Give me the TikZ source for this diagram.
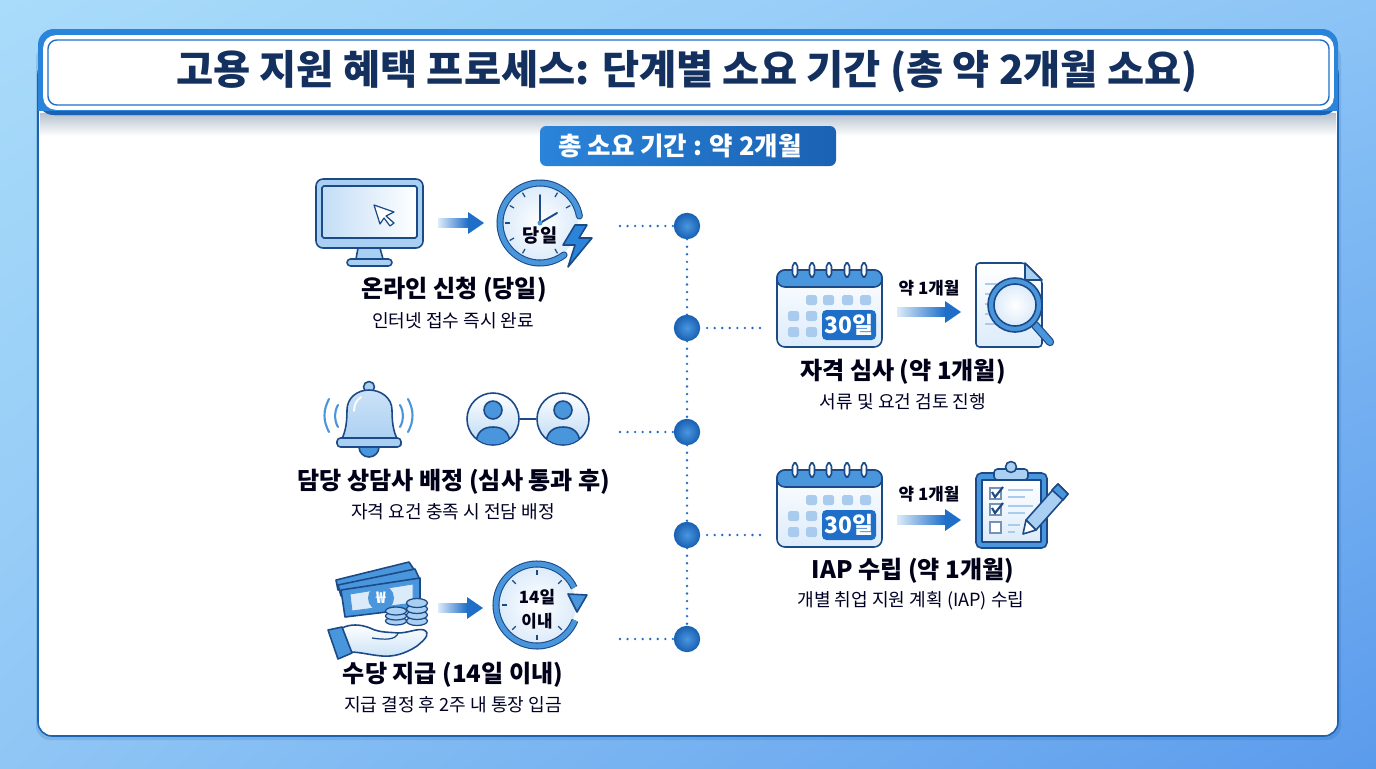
\documentclass[tikz,border=0pt]{standalone}
\usepackage{fontspec}
\setmainfont{Noto Sans CJK KR}
\usetikzlibrary{positioning,calc,shadings}
\definecolor{bgtl}{HTML}{A9DCFA}
\definecolor{bgtr}{HTML}{8CC4F6}
\definecolor{bgbl}{HTML}{8FC6F5}
\definecolor{bgbr}{HTML}{5B9BEC}
\definecolor{rimblue}{HTML}{2A84DA}
\definecolor{rimdark}{HTML}{1A62B4}
\definecolor{navytext}{HTML}{14305E}
\definecolor{inkdark}{HTML}{1B4A86}
\definecolor{midblue}{HTML}{4A96DC}
\definecolor{deepblue}{HTML}{1F6FC8}
\definecolor{softblue}{HTML}{A9CFF2}
\definecolor{paleblue}{HTML}{DCEBFA}
\definecolor{gridblue}{HTML}{A8CBEE}
\tikzset{
  icon/.style={draw=inkdark,line width=0.9pt,line join=round},
  headtext/.style={font=\bfseries\fontsize{13.7}{16}\selectfont,text=black!90!blue,inner sep=0pt},
  subtext/.style={font=\fontsize{10.3}{12}\selectfont,text=black!85!blue,inner sep=0pt},
  steptime/.style={font=\bfseries\fontsize{9.6}{11}\selectfont,text=black!90!blue,inner sep=0pt},
  tdot/.style={circle,draw=rimdark,line width=0.5pt,inner sep=0pt,minimum size=14.5pt,
    inner color=rimblue!85!white,outer color=rimdark},
  dotline/.style={draw=deepblue,line width=1.5pt,line cap=round,dash pattern=on 0pt off 4.3pt},
  pics/flowarrow/.style={code={
    \shade[left color=paleblue,right color=deepblue] (0,-4.5) rectangle (#1,4.5);
    \fill[deepblue] (#1,-11) -- ({#1+16},0) -- (#1,11) -- cycle;
  }},
  pics/calicon/.style={code={
    \draw[icon,fill=white,top color=white,bottom color=paleblue,rounded corners=4.5pt] (0,0) rectangle (105,77);
    \draw[icon,fill=midblue,rounded corners=4.5pt] (0,17) -- (0,0) -- (105,0) -- (105,17) -- cycle;
    \foreach \cx in {18,35,52,70,87} {
      \draw[icon,fill=white,rounded corners=2pt] (\cx-2.5,-7) rectangle (\cx+2.5,7);
    }
    \foreach \cx/\cy in {29/25,46/25,65/25,83/25,11/41,29/41,11/57,29/57} {
      \fill[gridblue,rounded corners=1pt] (\cx,\cy) rectangle (\cx+11,\cy+10);
    }
    \fill[deepblue,rounded corners=2.5pt] (45,40) rectangle (99,70);
    \node[text=white,font=\bfseries\fontsize{13}{15}\selectfont,inner sep=0pt] (#1) at (72,55) {30일};
  }}
}
\begin{document}
\begin{tikzpicture}[x=0.02cm,y=-0.02cm]
  \useasboundingbox (0,0) rectangle (1376,768);
  \shade[upper left=bgtl,upper right=bgtr,lower left=bgbl,lower right=bgbr] (0,0) rectangle (1376,768);
  % panel and header
  \fill[inkdark,opacity=0.15,rounded corners=8pt] (36,44) rectangle (1341,740);
  \draw[draw=rimdark,fill=white,line width=0.9pt,rounded corners=8pt] (38,60) rectangle (1338,736);
  \shade[top color=black!18!paleblue,bottom color=white] (40,113) rectangle (1336,136);
  \fill[rimblue,rounded corners=9pt] (38,29) rectangle (1338,115);
  \fill[rimdark,rounded corners=9pt] (38,90) rectangle (1338,115);
  \fill[rimblue] (38,70) rectangle (1338,111);
  \draw[draw=white,fill=white,line width=2pt,rounded corners=6pt] (45,37) rectangle (1332,108);
  \draw[draw=deepblue,fill=white,line width=0.8pt,rounded corners=5pt] (48,40) rectangle (1329,105);
  \node[font=\bfseries\fontsize{23}{27}\selectfont,text=navytext,inner sep=0pt] (title) at (687,72) {고용 지원 혜택 프로세스: 단계별 소요 기간 (총 약 2개월 소요)};
  \shade[left color=rimblue,right color=rimdark,rounded corners=3.5pt] (540,126) rectangle (836,166);
  \node[font=\bfseries\fontsize{14.5}{17}\selectfont,text=white,inner sep=0pt] (total) at (680,146) {총 소요 기간 : 약 2개월};

  % timeline
  \node[tdot] (dot1) at (687,226) {};
  \node[tdot] (dot2) at (687,328) {};
  \node[tdot] (dot3) at (687,432) {};
  \node[tdot] (dot4) at (687,535) {};
  \node[tdot] (dot5) at (687,639) {};
  \coordinate (spur1) at (620,226);
  \coordinate (spur2) at (760,328);
  \coordinate (spur3) at (620,432);
  \coordinate (spur4) at (760,535);
  \coordinate (spur5) at (620,639);
  \foreach \i/\j in {1/2,2/3,3/4,4/5} {
    \draw[dotline] (dot\i) -- (dot\j);
  }
  \foreach \i in {1,2,3,4,5} {
    \draw[dotline] (spur\i) -- (dot\i);
  }

  % monitor
  \draw[icon,fill=softblue,rounded corners=4pt] (316,179) rectangle (423,248);
  \draw[icon,left color=softblue!70,right color=white,rounded corners=1pt] (322,186) rectangle (417,238);
  \draw[icon,fill=softblue] (358,248) -- (380,248) -- (383,259) -- (356,259) -- cycle;
  \draw[icon,fill=softblue,rounded corners=2pt] (347,259) rectangle (392,266);
  \draw[icon,fill=white,line width=0.7pt] (374,205) -- (394,212) -- (386,216) -- (394,223) -- (390,226) -- (384,218) -- (380,224) -- cycle;
  \pic at (438,223) {flowarrow=30};

  % same-day clock
  \fill[white] (540,223) circle [radius=40];
  \shade[inner color=white,outer color=paleblue] (540,223) circle [radius=38];
  \draw[inkdark,line width=4pt,line cap=round] (540,223) ++(-10:40) arc [start angle=-10,end angle=-307,radius=40];
  \draw[midblue,line width=2.8pt,line cap=round] (540,223) ++(-10:40) arc [start angle=-10,end angle=-307,radius=40];
  \foreach \a in {30,60,120,150,180,210,240,300} {
    \draw[inkdark,line width=0.7pt] (540,223) ++(-\a:30) -- ++(-\a:5);
  }
  \draw[inkdark,line width=1.1pt,line cap=round] (540,195) -- (540,223) -- (557,213);
  \fill[midblue] (540,223) circle [radius=2.5];
  \node[font=\bfseries\fontsize{10.6}{12}\selectfont,text=black!90!blue,inner sep=0pt] (sameday) at (540,236) {당일};
  \draw[icon,fill=rimblue] (587,225) -- (575,225) -- (563,245) -- (575,245) -- (568,267) -- (592,238) -- (579,238) -- cycle;
  \node[headtext] (onlinehead) at (454,290) {온라인 신청 (당일)};
  \node[subtext] (onlinesub) at (453,321) {인터넷 접수 즉시 완료};

  % bell
  \draw[midblue,line width=1.2pt,line cap=round] (329,399) .. controls (323,410) and (323,421) .. (329,432);
  \draw[midblue,line width=1.2pt,line cap=round] (338,405) .. controls (334,412) and (334,420) .. (338,427);
  \draw[midblue,line width=1.2pt,line cap=round] (408,399) .. controls (414,410) and (414,421) .. (408,432);
  \draw[midblue,line width=1.2pt,line cap=round] (400,405) .. controls (404,412) and (404,420) .. (400,427);
  \draw[icon,fill=midblue] (359,447) arc [start angle=-180,end angle=-360,radius=10];
  \draw[icon,fill=softblue] (369,387) circle [radius=5.5];
  \draw[icon,top color=softblue!60,bottom color=softblue] (338,445) .. controls (345,436) and (347,425) .. (347,410) .. controls (347,398) and (357,390) .. (369,390) .. controls (381,390) and (392,398) .. (392,410) .. controls (392,425) and (394,436) .. (401,445) -- cycle;
  \draw[icon,fill=softblue,rounded corners=2pt] (337,438) rectangle (401,447);
  \draw[white,line width=1pt,line cap=round] (354,411) .. controls (354,404) and (357,400) .. (361,397);

  % two advisers
  \foreach \who/\px in {personA/493,personB/563} {
    \node[circle,draw=inkdark,line width=0.9pt,inner sep=0pt,minimum size=29.6pt,
      top color=white,bottom color=softblue!80] (\who) at (\px,419) {};
    \begin{scope}
      \clip (\px,419) circle [radius=25.5];
      \draw[icon,fill=midblue] (\px-17,445) .. controls (\px-17,432) and (\px-10,427) .. (\px,427) .. controls (\px+10,427) and (\px+17,432) .. (\px+17,445) -- cycle;
    \end{scope}
    \draw[icon,fill=midblue] (\px,410) circle [radius=9];
  }
  \draw[icon] (personA) -- (personB);
  \node[headtext] (advisorhead) at (454,482) {담당 상담사 배정 (심사 통과 후)};
  \node[subtext] (advisorsub) at (453,512) {자격 요건 충족 시 전담 배정};

  % money
  \draw[icon,fill=midblue] (336,580) -- (409,562) -- (415,571) -- (338,590) -- cycle;
  \draw[icon,fill=midblue] (338,585) -- (415,569) -- (420,580) -- (341,596) -- cycle;
  \draw[icon,fill=midblue] (341,590) -- (420,578) -- (420,608) -- (345,617) -- cycle;
  \draw[draw=midblue,fill=paleblue,line width=0.5pt] (350,594) -- (413,584) -- (413,603) -- (352,611) -- cycle;
  \node[circle,fill=midblue,inner sep=0pt,minimum size=14.8pt,text=white,font=\bfseries\fontsize{9}{10}\selectfont] (won) at (381,598) {₩};
  \foreach \cy in {621,616,611} {
    \draw[icon,fill=softblue,line width=0.7pt] (396,\cy) ellipse [x radius=10.5,y radius=4];
  }
  \foreach \cy in {621,615,609,603} {
    \draw[icon,fill=softblue,line width=0.7pt] (417,\cy) ellipse [x radius=10.5,y radius=4.5];
  }
  \draw[icon,top color=white,bottom color=softblue!60] (342,628) .. controls (350,624) and (360,624) .. (370,628) .. controls (380,633) and (390,632) .. (398,633) .. controls (408,633) and (418,628) .. (424,630) .. controls (430,633) and (427,638) .. (417,646) .. controls (405,654) and (393,657) .. (382,656) .. controls (370,655) and (360,652) .. (350,652) -- cycle;
  \draw[icon,line width=0.7pt] (398,633) .. controls (396,640) and (385,640) .. (372,638);
  \draw[icon,fill=midblue] (328,630) -- (342,627) -- (352,653) -- (338,659) -- cycle;
  \pic at (438,608) {flowarrow=29};

  % 14 day clock
  \shade[inner color=white,outer color=paleblue] (537,605) circle [radius=39];
  \draw[inkdark,line width=4pt] (537,605) ++(22:41) arc [start angle=22,end angle=335,radius=41];
  \draw[midblue,line width=2.8pt] (537,605) ++(22:41) arc [start angle=22,end angle=335,radius=41];
  \draw[icon,fill=midblue] (568,594) -- (587,595) -- (577,612) -- cycle;
  \foreach \a in {45,90,135,180,225,270,315} {
    \draw[inkdark,line width=0.7pt] (537,605) ++(-\a:30) -- ++(-\a:5);
  }
  \node[font=\bfseries\fontsize{9.6}{13.6}\selectfont,text=black!90!blue,inner sep=0pt,align=center] (within) at (537,609) {14일\\이내};
  \node[headtext] (payhead) at (453,675) {수당 지급 (14일 이내)};
  \node[subtext] (paysub) at (453,705) {지급 결정 후 2주 내 통장 입금};

  % screening
  \pic at (777,270) {calicon=calA};
  \pic at (897,312) {flowarrow=48};
  \node[steptime] (monthA) at (929,288) {약 1개월};
  \draw[icon,top color=white,bottom color=paleblue,rounded corners=2pt] (976,263) -- (1025,263) -- (1042,280) -- (1042,347) -- (976,347) -- cycle;
  \draw[icon,fill=softblue] (1025,263) -- (1025,280) -- (1042,280) -- cycle;
  \foreach \ly in {284,294,304,314,324} {
    \draw[gridblue,line width=0.8pt] (985,\ly) -- (1030,\ly);
  }
  \draw[inkdark,line width=4.8pt,line cap=round] (1035,325) -- (1050,342);
  \draw[midblue,line width=3.4pt,line cap=round] (1035,325) -- (1050,342);
  \draw[icon,fill=midblue] (1015,305) circle [radius=27];
  \draw[icon,inner color=white,outer color=paleblue] (1015,305) circle [radius=21];
  \node[headtext] (reviewhead) at (903,372) {자격 심사 (약 1개월)};
  \node[subtext] (reviewsub) at (903,402) {서류 및 요건 검토 진행};

  % IAP
  \pic at (777,470) {calicon=calB};
  \pic at (897,520) {flowarrow=48};
  \node[steptime] (monthB) at (929,494) {약 1개월};
  \draw[icon,fill=midblue,rounded corners=3pt] (976,473) rectangle (1047,548);
  \draw[icon,top color=white,bottom color=paleblue] (982,480) rectangle (1041,542);
  \draw[icon,fill=softblue,rounded corners=2pt] (994,469) rectangle (1028,480);
  \draw[icon,fill=softblue] (1011,467) circle [radius=5.5];
  \foreach \cy in {488,504,522} {
    \draw[draw=inkdark!60,fill=white,line width=0.6pt] (990,\cy) rectangle (1001,\cy+11);
  }
  \draw[inkdark,line width=1.2pt] (992,492) -- (995,497) -- (1003,487);
  \draw[inkdark,line width=1.2pt] (992,508) -- (995,513) -- (1003,503);
  \foreach \ly/\lx in {490/1033,497/1025,506/1033,513/1025,525/1020,532/1015} {
    \draw[gridblue,line width=0.9pt] (1008,\ly) -- (\lx,\ly);
  }
  \draw[icon,fill=softblue] (1026,520) -- (1058,484) -- (1068,494) -- (1036,530) -- cycle;
  \draw[icon,fill=midblue] (1052,490) -- (1058,484) -- (1068,494) -- (1063,500) -- cycle;
  \draw[icon,fill=white] (1023,534) -- (1026,520) -- (1036,530) -- cycle;
  \node[headtext] (planhead) at (913,571) {IAP 수립 (약 1개월)};
  \node[subtext] (plansub) at (911,601) {개별 취업 지원 계획 (IAP) 수립};
\end{tikzpicture}
\end{document}
